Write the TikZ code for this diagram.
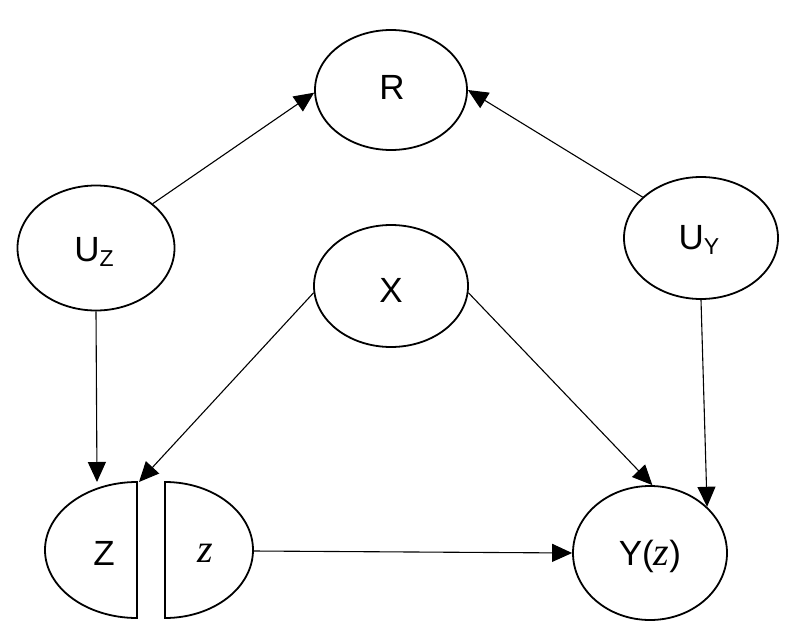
\documentclass[tikz,border=0pt]{standalone}
\usepackage{fontspec}
\setmainfont{Liberation Sans}
\newfontfamily\serifit{Liberation Serif}[ItalicFont=* Italic]
\usetikzlibrary{shapes.geometric,arrows.meta}
\begin{document}
\begin{tikzpicture}[x=1pt,y=-1pt,
  ell/.style={ellipse,draw,line width=1.8pt,inner sep=0pt},
  lbl/.style={font=\fontsize{35}{38}\selectfont},
  conn/.style={line width=1.1pt,-{Triangle[length=20pt,width=18pt]}},
  halfz/.style={line width=1.8pt}]
\useasboundingbox (0,0) rectangle (800,642);
\node[ell,minimum width=152pt,minimum height=120pt] (R) at (391,90) {};
\node[lbl] (Rt) at (392,87) {R};
\node[ell,minimum width=157pt,minimum height=125pt] (UZ) at (96,248) {};
\node[lbl] (UZt) at (94,252) {U\raisebox{-5pt}{\fontsize{23}{25}\selectfont Z}};
\node[ell,minimum width=154pt,minimum height=122pt] (UY) at (701,238) {};
\node[lbl] (UYt) at (699,240) {U\raisebox{-5pt}{\fontsize{23}{25}\selectfont Y}};
\node[ell,minimum width=154pt,minimum height=122pt] (X) at (391,286) {};
\node[lbl] (Xt) at (391,290) {X};
\node[ell,minimum width=154pt,minimum height=134pt] (Y) at (650,553) {};
\node[lbl] (Yt) at (650,556) {Y({\serifit\fontsize{40}{42}\selectfont\itshape z})};
% split Z node
\draw[halfz] (137,482) arc[start angle=270,end angle=90,x radius=92,y radius=68] -- cycle;
\draw[halfz] (165,482) arc[start angle=-90,end angle=90,x radius=88,y radius=68] -- cycle;
\node[lbl] (Zt) at (104,553) {Z};
\node[lbl] (zt) at (205,553) {\serifit\fontsize{40}{42}\selectfont\itshape z};
\coordinate (Ztop) at (97,482);
\coordinate (Zcorner) at (139,482);
\coordinate (zright) at (253,551);
\draw[conn] (UZ.south) -- (Ztop);
\draw[conn] (X.185) -- (Zcorner);
\draw[conn] (X.355) -- (Y.88);
\draw[conn] (UY.south) -- (Y.39);
\draw[conn] (zright) -- (Y.west);
\draw[conn] (UZ.38) -- (R.182);
\draw[conn] (UY.145) -- (R.0);
\end{tikzpicture}
\end{document}
